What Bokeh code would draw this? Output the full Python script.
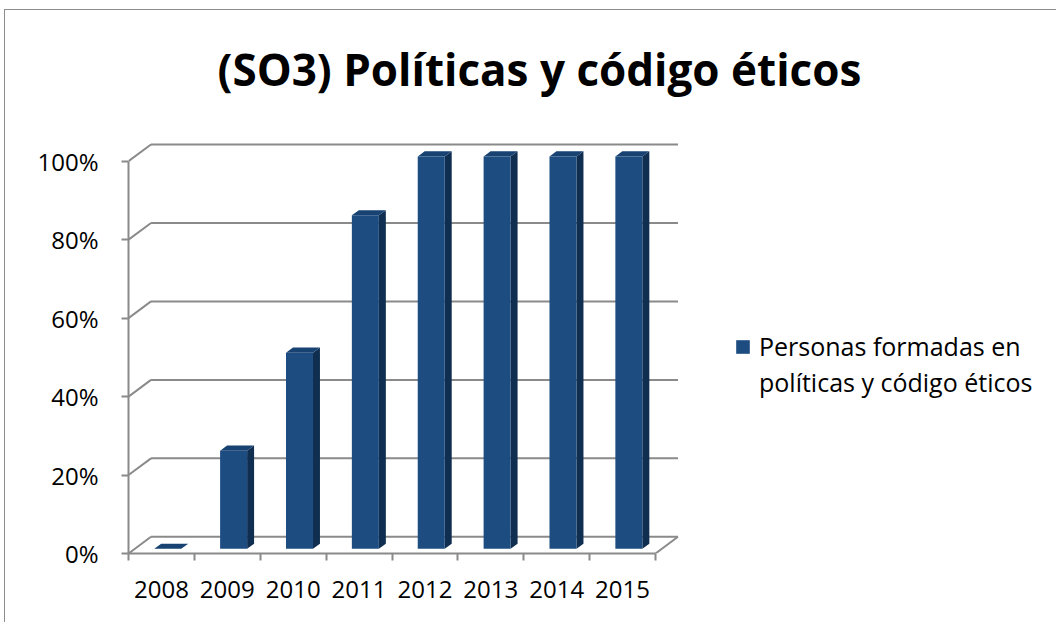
from bokeh.plotting import figure
from bokeh.models import (Range1d, FixedTicker, Legend, LegendItem,
                          ColumnDataSource, CustomJSTickFormatter, Title)
from bokeh.embed import file_html
from bokeh.resources import INLINE

# ---------------- data ----------------
years = ["2008", "2009", "2010", "2011", "2012", "2013", "2014", "2015"]
values = [0, 25, 50, 85, 100, 100, 100, 100]
y_ticks = [0, 20, 40, 60, 80, 100]
y_tick_labels = ["0%", "20%", "40%", "60%", "80%", "100%"]
title_text = "(SO3) Políticas y código éticos"
legend_lines = ["Personas formadas en", "políticas y código éticos"]

# ---------------- layout / style constants ----------------
W, H = 1052, 613
FRAME_L, FRAME_R, FRAME_T, FRAME_B = 123, 1052, 114, 543
PX_X = 65.875          # px per category
PX_Y = 3.923           # px per percent
DX = 22.5 / PX_X       # depth offset (data units)
DY = 16.7 / PX_Y
BAR_W = 27 / PX_X
T0, T1 = 0.28, 0.59    # bar depth position (fraction of floor depth)
GRID = "#8a8a8a"
FRONT, SIDE, TOP = "#1c4c80", "#0f2e50", "#174271"
FONT = "Open Sans"

n = len(years)
p = figure(width=W, height=H,
           x_range=Range1d(0, (FRAME_R - FRAME_L) / PX_X),
           y_range=Range1d(0, (FRAME_B - FRAME_T) / PX_Y),
           output_backend="svg", toolbar_location=None,
           min_border_left=FRAME_L, min_border_right=W - FRAME_R,
           min_border_top=FRAME_T, min_border_bottom=H - FRAME_B)
p.outline_line_color = None
p.xgrid.visible = False
p.ygrid.visible = False
p.background_fill_color = "white"
p.border_fill_color = "white"
p.styles = {"margin-left": "4px", "margin-top": "9px",
            "border-left": "1px solid #8c8c8c", "border-top": "1px solid #8c8c8c"}

# title
p.title = Title(text=title_text, align="left", offset=89, text_font=FONT,
                text_font_style="bold", text_font_size="44px",
                text_color="#000000", standoff=52)

# ---------------- axes ----------------
xa = p.xaxis[0]
xa.ticker = FixedTicker(ticks=[i + 0.5 for i in range(n)],
                        minor_ticks=list(range(n + 1)))
xa.formatter = CustomJSTickFormatter(args=dict(labels=years),
                                     code="return labels[Math.floor(tick)];")
xa.bounds = (0, n)
xa.axis_line_color = GRID
xa.axis_line_width = 2
xa.major_tick_line_color = None
xa.major_tick_out = 0
xa.major_tick_in = 0
xa.minor_tick_line_color = GRID
xa.minor_tick_line_width = 2
xa.minor_tick_out = 7
xa.minor_tick_in = 0
xa.major_label_text_font = FONT
xa.major_label_text_font_size = "24px"
xa.major_label_text_color = "#000000"
xa.major_label_standoff = 20

ya = p.yaxis[0]
ya.ticker = FixedTicker(ticks=y_ticks, minor_ticks=[])
ya.formatter = CustomJSTickFormatter(args=dict(tvals=y_ticks, tlabels=y_tick_labels),
                                     code="return tlabels[tvals.indexOf(Math.round(tick))];")
ya.bounds = (0, 100)
ya.axis_line_color = GRID
ya.axis_line_width = 2
ya.major_tick_line_color = GRID
ya.major_tick_line_width = 2
ya.major_tick_out = 7
ya.major_tick_in = 0
ya.minor_tick_line_color = None
ya.major_label_text_font = FONT
ya.major_label_text_font_size = "24px"
ya.major_label_text_color = "#000000"
ya.major_label_standoff = 23

# ---------------- 3D walls / gridlines ----------------
back = ColumnDataSource(dict(
    x0=[DX] * len(y_ticks), x1=[n + DX] * len(y_ticks),
    y0=[v + DY for v in y_ticks], y1=[v + DY for v in y_ticks]))
p.segment("x0", "y0", "x1", "y1", source=back, line_color=GRID, line_width=2)
diag = ColumnDataSource(dict(
    x0=[0] * len(y_ticks), x1=[DX] * len(y_ticks),
    y0=list(y_ticks), y1=[v + DY for v in y_ticks]))
p.segment("x0", "y0", "x1", "y1", source=diag, line_color=GRID, line_width=2)
p.segment(x0=[n], y0=[0], x1=[n + DX], y1=[DY], line_color=GRID, line_width=2)

# ---------------- 3D bars ----------------
d = T1 - T0
left = [i + 0.5 - BAR_W / 2 + T0 * DX for i in range(n)]
right = [l + BAR_W for l in left]
bottom = [T0 * DY] * n
top = [v + T0 * DY for v in values]

side_xs = [[r, r + d * DX, r + d * DX, r] for r in right]
side_ys = [[b, b + d * DY, t + d * DY, t] for b, t in zip(bottom, top)]
top_xs = [[l, l + d * DX, r + d * DX, r] for l, r in zip(left, right)]
top_ys = [[t, t + d * DY, t + d * DY, t] for t in top]

p.patches(side_xs, side_ys, fill_color=SIDE, line_color=None)
p.patches(top_xs, top_ys, fill_color=TOP, line_color=None)
front = p.quad(left=left, right=right, bottom=bottom, top=top,
               fill_color=FRONT, line_color=None)
dummy = p.quad(left=[], right=[], bottom=[], top=[], fill_alpha=0, line_alpha=0)

# ---------------- legend ----------------
legend = Legend(items=[LegendItem(label=legend_lines[0], renderers=[front]),
                       LegendItem(label=legend_lines[1], renderers=[dummy])],
                location=(606, 154), orientation="vertical",
                glyph_width=17, glyph_height=17, label_standoff=8,
                spacing=2, padding=0, margin=0,
                border_line_color=None, background_fill_alpha=0,
                label_text_font=FONT, label_text_font_size="25px",
                label_text_color="#000000")
p.add_layout(legend, "center")

open("out.html", "w").write(file_html(p, INLINE))
